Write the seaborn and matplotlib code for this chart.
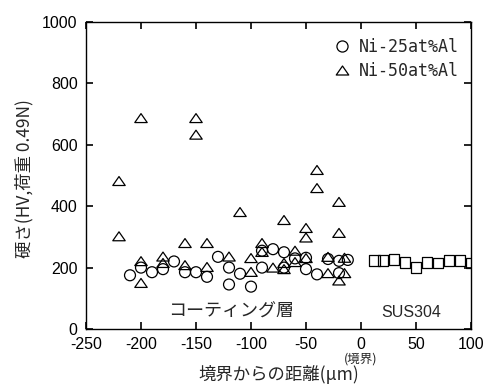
import matplotlib
matplotlib.use("Agg")
import matplotlib.pyplot as plt
import seaborn as sns
import pandas as pd
from matplotlib.lines import Line2D
from matplotlib.path import Path

sns.set_theme(style="ticks")
plt.rcParams['font.family'] = ['Liberation Sans', 'Noto Sans CJK JP', 'DejaVu Sans']

# Ni-25at%Al (circles)
ni25_x = [-210, -200, -190, -180, -170, -160, -150, -140, -130, -120, -120, -110, -100,
          -90, -90, -80, -70, -70, -60, -50, -50, -40, -30, -20, -20, -12]
ni25_y = [175, 200, 185, 195, 220, 185, 185, 170, 235, 200, 145, 180, 138,
          255, 200, 260, 250, 200, 230, 232, 195, 178, 228, 222, 182, 225]

# Ni-50at%Al (triangles)
ni50_x = [-220, -220, -200, -200, -200, -180, -180, -160, -160, -150, -150, -140, -140,
          -120, -110, -100, -100, -90, -90, -80, -70, -70, -70, -60, -60,
          -50, -50, -50, -40, -40, -30, -30, -20, -20, -20, -15, -15]
ni50_y = [482, 302, 687, 221, 150, 236, 215, 280, 208, 687, 633, 280, 202,
          236, 381, 231, 186, 280, 251, 200, 355, 215, 195, 255, 218,
          329, 298, 231, 518, 459, 235, 182, 414, 313, 158, 232, 182]

# SUS304 (squares)
sus_x = [12, 20, 30, 40, 50, 60, 70, 80, 90, 100]
sus_y = [222, 222, 225, 218, 200, 218, 215, 222, 222, 215]

label_25 = "Ni-25at%Al"
label_50 = "Ni-50at%Al"

xticks = [-250, -200, -150, -100, -50, 0, 50, 100]
yticks = [0, 200, 400, 600, 800, 1000]

df25 = pd.DataFrame({"x": ni25_x, "y": ni25_y})
df50 = pd.DataFrame({"x": ni50_x, "y": ni50_y})
dfs = pd.DataFrame({"x": sus_x, "y": sus_y})

fig = plt.figure(figsize=(4.86, 3.85), dpi=100)
ax = fig.add_axes([86/486, 1 - 329/385, (471-86)/486, (329-22)/385])

tri = Path([(-1, -0.72), (1, -0.72), (0, 0.72), (-1, -0.72)], closed=True)
common = dict(facecolors="none", edgecolors="black", linewidths=0.9, legend=False)
sns.scatterplot(data=df25, x="x", y="y", marker="o", s=62, ax=ax, **common)
sns.scatterplot(data=df50, x="x", y="y", marker=tri, s=80, ax=ax, **common)
sns.scatterplot(data=dfs, x="x", y="y", marker="s", s=62, ax=ax, **common)

ax.set_xlim(-250, 100)
ax.set_ylim(0, 1000)
ax.set_xticks(xticks)
ax.set_yticks(yticks)
ax.set_xticklabels([str(v) for v in xticks])
ax.set_yticklabels([str(v) for v in yticks])
ax.tick_params(direction="in", length=5, width=1.2, top=True, right=True,
               labelsize=11.5, colors="black")
ax.tick_params(axis="y", pad=6)
ax.tick_params(axis="x", pad=6)
for sp in ax.spines.values():
    sp.set_visible(True)
    sp.set_linewidth(1.0)
    sp.set_color("black")

ax.set_xlabel("境界からの距離(μm)", fontsize=12.5, family=['Noto Sans CJK JP', 'DejaVu Sans'])
ax.xaxis.set_label_coords(0.5, -0.148)
ax.xaxis.label.set_va("center")
ax.set_ylabel("硬さ(HV,荷重 0.49N)", fontsize=12.5, family=['Noto Sans CJK JP', 'DejaVu Sans'])
ax.yaxis.set_label_coords(-0.16, 0.49)
ax.yaxis.label.set_va("center")

ax.text(0.0, -0.098, "(境界)", transform=ax.get_xaxis_transform(), ha="center", va="center",
        fontsize=9, family=['Noto Sans CJK JP', 'DejaVu Sans'])
ax.text(-118, 55, "コーティング層", ha="center", va="center", fontsize=13,
        family=['Noto Sans CJK JP', 'DejaVu Sans'])
ax.text(46, 55, "SUS304", ha="center", va="center", fontsize=11.5, family='Liberation Sans')

handles = [
    Line2D([], [], linestyle="none", marker="o", markersize=8, markerfacecolor="none",
           markeredgecolor="black", markeredgewidth=0.9),
    Line2D([], [], linestyle="none", marker=tri, markersize=9, markerfacecolor="none",
           markeredgecolor="black", markeredgewidth=0.9),
]
ax.legend(handles, [label_25, label_50], loc="upper left", frameon=False,
          bbox_to_anchor=((334-86)/385, (329-38)/307), borderaxespad=0, borderpad=0,
          handlelength=1.0, handletextpad=0.5, labelspacing=0.35,
          prop={"family": "DejaVu Sans Mono", "size": 12})

fig.savefig("out.png", dpi=100)
